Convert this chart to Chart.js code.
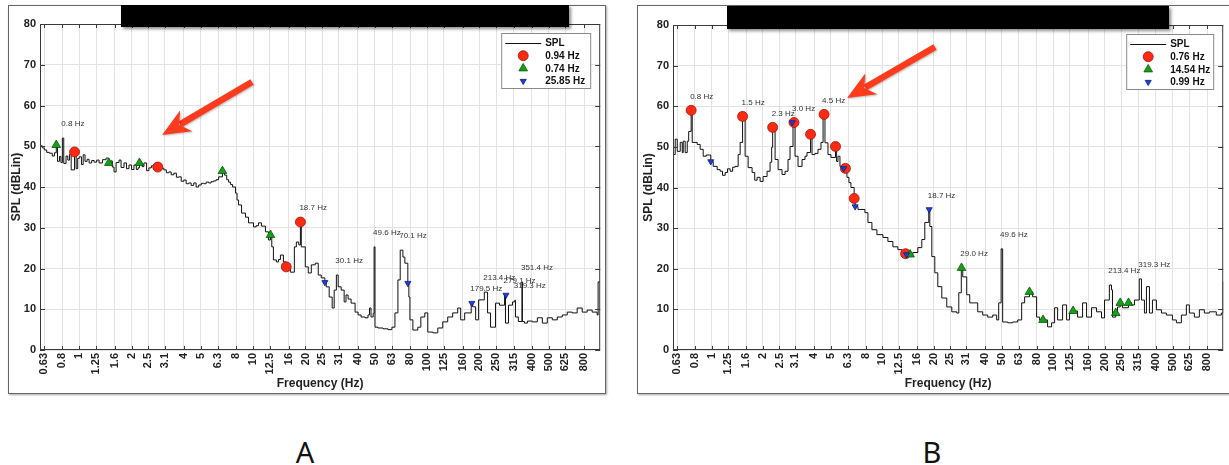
<!DOCTYPE html>
<html>
<head>
<meta charset="utf-8">
<title>SPL spectra A / B</title>
<script src="https://cdn.jsdelivr.net/npm/chart.js@4.4.1/dist/chart.umd.min.js"></script>
<style>
  html, body { margin: 0; padding: 0; background: #fff; }
  body { width: 1229px; height: 465px; position: relative; overflow: hidden; }
  .panel { position: absolute; top: 5px; height: 389px; }
  .frame { position: absolute; left: 0; top: 0; right: 0; bottom: 0; box-sizing: border-box;
           border: 1px solid #666; box-shadow: 1px 1px 2px rgba(0,0,0,.35); z-index: 0; }
  .panel canvas { position: absolute; left: 0; top: 0; z-index: 1; }
  .tag { position: absolute; top: 437px; font: 29px "Noto Sans", sans-serif; line-height: 1;
         color: #111; transform: translateX(-50%); }
</style>
</head>
<body>
<div class="panel" style="left:8px;width:598px"><div class="frame"></div><canvas id="chartA" width="598" height="389"></canvas></div>
<div class="panel" style="left:637px;width:600px"><div class="frame"></div><canvas id="chartB" width="592" height="389"></canvas></div>
<div class="tag" style="left:305px">A</div>
<div class="tag" style="left:932px">B</div>
<script>
const FONT = '"Liberation Sans", Arial, Helvetica, sans-serif';

// axes
const xMin = 0.595, xMax = 990;
const xTickValues = [0.63, 0.8, 1, 1.25, 1.6, 2, 2.5, 3.1, 4, 5, 6.3, 8, 10, 12.5, 16, 20, 25, 31, 40, 50,
  63, 80, 100, 125, 160, 200, 250, 315, 400, 500, 625, 800];
const yTickValues = [0, 10, 20, 30, 40, 50, 60, 70, 80];

// panel A: [Hz, dB]
const splA = [[0.595, 50.1], [0.614, 49.6], [0.63, 49.1], [0.65, 48.5], [0.673, 48.3], [0.70, 47.6], [0.72, 48.4],
  [0.738, 50.3], [0.75, 46.3], [0.77, 47.5], [0.785, 46.0], [0.80, 52.0], [0.815, 45.8], [0.84, 47.6], [0.86, 46.6],
  [0.88, 48.0], [0.899, 44.2], [0.94, 48.6], [0.96, 44.5], [0.98, 47.0], [1.0, 47.4], [1.03, 45.5], [1.054, 47.9],
  [1.08, 46.3], [1.11, 46.8], [1.14, 45.9], [1.18, 46.5], [1.218, 46.1], [1.26, 46.6], [1.301, 45.9], [1.36, 46.7],
  [1.427, 47.1], [1.48, 45.9], [1.52, 46.4], [1.55, 44.9], [1.586, 43.7], [1.63, 46.0], [1.694, 46.6], [1.74, 44.8],
  [1.809, 45.9], [1.87, 44.5], [1.932, 45.4], [2.0, 44.3], [2.064, 45.4], [2.13, 44.3], [2.18, 44.7], [2.22, 45.9],
  [2.3, 45.0], [2.355, 45.9], [2.44, 44.0], [2.516, 44.7], [2.6, 45.2], [2.687, 44.4], [2.83, 44.9], [2.95, 44.6],
  [3.066, 44.2], [3.17, 43.5], [3.275, 43.7], [3.38, 43.0], [3.499, 43.4], [3.62, 42.4], [3.737, 42.5], [3.86, 41.4],
  [3.992, 41.7], [4.12, 40.8], [4.264, 41.0], [4.4, 40.4], [4.555, 41.0], [4.7, 40.0], [4.864, 40.5], [5.03, 40.9],
  [5.196, 40.8], [5.37, 41.2], [5.551, 41.0], [5.73, 41.3], [5.93, 41.5], [6.13, 41.8], [6.334, 42.5], [6.66, 43.9],
  [6.855, 42.9], [7.05, 41.8], [7.226, 41.2], [7.42, 40.6], [7.617, 40.0], [7.925, 38.5], [8.08, 36.8], [8.245, 35.6],
  [8.578, 33.6], [9.042, 32.6], [9.406, 31.2], [10.05, 30.2], [10.4, 30.5], [10.73, 31.2], [11.16, 30.4],
  [11.77, 29.0], [12.25, 27.0], [12.58, 28.2], [12.8, 25.3], [13.08, 22.1], [13.61, 21.6], [14.0, 22.2],
  [14.35, 23.3], [14.93, 21.6], [15.5, 20.4], [16.37, 19.1], [17.26, 25.3], [17.72, 26.5], [18.3, 25.8],
  [18.7, 31.4], [18.92, 25.3], [19.95, 20.4], [20.75, 18.9], [21.6, 20.9], [22.76, 21.3], [23.68, 18.4],
  [24.64, 17.7], [25.85, 16.6], [26.31, 15.5], [27.37, 13.0], [28.48, 10.3], [29.24, 14.7], [30.1, 18.4],
  [30.83, 15.5], [32.07, 14.7], [33.37, 11.8], [34.2, 13.5], [35.17, 12.5], [36.59, 11.5], [38.57, 9.3],
  [40.12, 8.6], [41.74, 8.1], [44.0, 7.9], [45.78, 8.6], [46.7, 10.3], [47.63, 8.1], [49.0, 9.0], [49.6, 25.3],
  [50.21, 5.6], [52.24, 5.4], [55.8, 5.2], [59.6, 5.0], [62.8, 5.6], [65.36, 9.1], [68.0, 17.2], [70.1, 24.5],
  [72.64, 22.8], [74.57, 21.3], [77.55, 16.4], [78.6, 13.0], [79.7, 7.4], [82.9, 4.9], [88.5, 5.6], [92.1, 8.1],
  [97.1, 9.1], [101.0, 4.4], [107.9, 4.2], [115.3, 5.4], [123.1, 6.9], [131.5, 8.1], [140.4, 9.1], [150.1, 10.3],
  [156.1, 7.4], [164.6, 9.1], [179.5, 11.5], [182.9, 10.6], [190.3, 7.4], [197.9, 12.3], [213.4, 14.2],
  [222.8, 9.1], [231.8, 5.6], [241.2, 5.6], [247.6, 11.5], [261.0, 11.0], [279.1, 13.5], [282.5, 6.6],
  [294.0, 11.0], [309.9, 11.8], [319.3, 12.2], [322.4, 8.1], [335, 7.0], [351.4, 16.7], [353.5, 7.0],
  [363.0, 6.6], [377.6, 7.1], [403.4, 6.9], [430.9, 7.9], [460.3, 6.6], [491.5, 7.9], [525.3, 7.4], [561.0, 8.1],
  [599.1, 8.6], [640.1, 9.3], [683.6, 9.1], [730.1, 10.3], [780.2, 9.3], [833.3, 9.8], [890.1, 9.3],
  [950.6, 8.6], [963, 16.7], [990, 16.7]];
const redA = [[0.94, 48.6], [2.83, 44.9], [15.5, 20.4], [18.7, 31.4]];
const greenA = [[0.738, 50.3], [1.48, 45.9], [2.22, 45.9], [6.66, 43.9], [12.58, 28.2]];
const blueA = [[25.85, 16.6], [77.55, 16.4], [180.95, 11.5], [284.35, 13.5]];
const peaksA = [[0.8, 52.0], [18.7, 31.4], [30.1, 18.4], [49.6, 25.3], [70.1, 24.5], [179.5, 11.5],
  [213.4, 14.2], [279.1, 13.5], [319.3, 12.2], [351.4, 16.7]];
const namesA = ['SPL', '0.94 Hz', '0.74 Hz', '25.85 Hz'];

// panel B: [Hz, dB]
const splB = [[0.595, 48.1], [0.613, 51.9], [0.63, 48.9], [0.656, 51.1], [0.674, 48.6], [0.683, 51.4],
  [0.701, 48.6], [0.721, 51.4], [0.735, 53.8], [0.76, 59.0], [0.771, 51.1], [0.80, 51.1], [0.824, 50.6],
  [0.858, 49.4], [0.894, 47.7], [0.931, 48.0], [0.99, 46.4], [1.023, 45.2], [1.079, 44.4], [1.124, 44.0],
  [1.16, 43.0], [1.202, 43.7], [1.24, 44.6], [1.286, 44.0], [1.33, 45.0], [1.375, 45.2], [1.432, 48.1],
  [1.471, 51.1], [1.52, 57.5], [1.573, 47.7], [1.638, 44.9], [1.728, 43.7], [1.79, 41.8], [1.849, 42.5],
  [1.925, 41.5], [2.004, 42.7], [2.115, 44.0], [2.202, 46.2], [2.25, 49.9], [2.28, 54.8], [2.356, 46.9],
  [2.453, 44.4], [2.588, 43.2], [2.695, 44.0], [2.805, 46.9], [2.882, 50.1], [3.0, 56.0], [3.083, 47.7],
  [3.21, 45.2], [3.388, 46.9], [3.527, 47.7], [3.623, 48.6], [3.8, 53.1], [3.876, 48.1], [4.035, 48.4],
  [4.202, 49.4], [4.374, 51.1], [4.5, 58.0], [4.616, 51.0], [4.806, 48.1], [5.004, 47.4], [5.32, 50.1],
  [5.4, 46.4], [5.5, 47.7], [5.649, 45.2], [5.94, 44.7], [6.207, 42.5], [6.376, 41.2], [6.55, 40.0],
  [6.84, 37.3], [6.93, 35.3], [7.197, 34.6], [7.394, 34.6], [7.909, 33.8], [8.234, 31.4], [8.69, 29.6],
  [9.294, 28.4], [10.08, 27.7], [10.78, 26.7], [11.53, 25.4], [12.33, 24.7], [13.01, 24.0], [13.68, 23.7],
  [14.54, 23.5], [15.09, 24.0], [16.14, 25.2], [17.03, 27.2], [17.73, 31.4], [18.7, 34.6], [18.97, 30.4],
  [19.49, 23.0], [20.29, 19.0], [21.12, 15.6], [22.29, 12.8], [23.84, 10.6], [25.5, 9.4], [27.28, 9.1],
  [28.03, 14.1], [29.0, 20.2], [29.57, 18.0], [31.2, 13.6], [32.49, 11.6], [34.75, 11.6], [36.18, 9.4],
  [38.7, 8.6], [41.4, 8.1], [44.29, 8.6], [46.73, 7.4], [48.0, 11.6], [49.6, 24.9], [50.64, 6.9], [54.18, 6.7],
  [57.96, 6.9], [61.99, 7.4], [65.42, 11.6], [68.11, 13.1], [72.7, 14.3], [75.86, 13.1], [80.06, 8.1],
  [83.36, 7.4], [87.24, 7.4], [92.82, 5.7], [97.95, 6.7], [101.98, 10.4], [106.2, 7.4], [113.6, 11.1],
  [119.9, 7.4], [124.8, 9.1], [130.9, 9.6], [139.0, 8.1], [148.7, 11.6], [156.9, 8.1], [167.8, 10.4],
  [179.5, 9.4], [192.0, 7.9], [199.9, 12.3], [213.4, 16.0], [219.6, 14.8], [222.6, 8.1], [232.6, 9.1],
  [238.1, 10.6], [247.2, 11.6], [254.7, 10.4], [276.3, 11.6], [287.4, 11.1], [299.3, 12.3], [319.3, 17.5],
  [328.9, 12.3], [342.4, 9.1], [351.8, 15.6], [366.3, 9.1], [381.4, 12.3], [402.5, 9.9], [430.5, 9.1],
  [460.4, 8.6], [499.2, 7.4], [526.8, 6.7], [563.4, 8.6], [602.6, 11.1], [627.4, 9.1], [671.1, 8.1],
  [717.8, 9.9], [767.8, 9.1], [821.2, 9.4], [902.1, 8.6], [965.2, 9.1], [990, 16.8]];
const redB = [[0.76, 59.0], [1.52, 57.5], [2.28, 54.8], [3.04, 56.0], [3.8, 53.1], [4.56, 58.0], [5.32, 50.1],
  [6.08, 44.7], [6.84, 37.3], [13.68, 23.7]];
const greenB = [[14.54, 23.5], [29.08, 20.2], [72.7, 14.3], [87.24, 7.4], [130.9, 9.6], [232.6, 9.1],
  [247.2, 11.6], [276.3, 11.6]];
const blueB = [[0.99, 46.4], [2.97, 56.0], [5.94, 44.7], [6.93, 35.3], [13.86, 23.5], [18.81, 34.6]];
const peaksB = [[0.76, 59.0], [1.52, 57.5], [2.28, 54.8], [3.0, 56.0], [4.5, 58.0], [18.7, 34.6], [29.0, 20.2],
  [49.6, 24.9], [213.4, 16.0], [319.3, 17.5]];
const namesB = ['SPL', '0.76 Hz', '14.54 Hz', '0.99 Hz'];

const toXY = arr => arr.map(([x, y]) => ({ x, y }));

function drawArrow(ctx, tail, tip) {
    const [x1, y1] = tail, [x2, y2] = tip;
    const ang = Math.atan2(y2 - y1, x2 - x1);
    const c = Math.cos(ang), s = Math.sin(ang);
    const bx = x2 - 25 * c, by = y2 - 25 * s;
    ctx.strokeStyle = ctx.fillStyle = '#ff3b1e';
    ctx.shadowColor = 'rgba(0,0,0,0.25)';
    ctx.shadowBlur = 2; ctx.shadowOffsetX = 1; ctx.shadowOffsetY = 1;
    ctx.lineWidth = 6.5;
    ctx.beginPath(); ctx.moveTo(x1, y1); ctx.lineTo(bx + 4 * c, by + 4 * s); ctx.stroke();
    ctx.beginPath();
    ctx.moveTo(x2, y2);
    ctx.lineTo(bx + 12 * s - 3 * c, by - 12 * c - 3 * s);
    ctx.lineTo(bx + 5 * c, by + 5 * s);
    ctx.lineTo(bx - 12 * s - 3 * c, by + 12 * c - 3 * s);
    ctx.closePath(); ctx.fill();
}

// frame, inward ticks, peak labels, legend, redaction bar, arrow
const panelDecor = {
    id: 'panelDecor',
    afterDraw(chart, args, o) {
        const { ctx, chartArea: a, scales: { x, y } } = chart;
        ctx.save();
        ctx.strokeStyle = '#3a3a3a';
        ctx.lineWidth = 1;
        ctx.strokeRect(a.left + 0.5, a.top + 0.5, a.right - a.left - 1, a.bottom - a.top - 1);
        ctx.beginPath();
        xTickValues.forEach(v => {
            const px = Math.round(x.getPixelForValue(v)) + 0.5;
            ctx.moveTo(px, a.bottom); ctx.lineTo(px, a.bottom - 4);
            ctx.moveTo(px, a.top); ctx.lineTo(px, a.top + 4);
        });
        yTickValues.forEach(v => {
            const py = Math.round(y.getPixelForValue(v)) + 0.5;
            ctx.moveTo(a.left, py); ctx.lineTo(a.left + 5, py);
            ctx.moveTo(a.right, py); ctx.lineTo(a.right - 5, py);
        });
        ctx.stroke();

        ctx.font = '8px ' + FONT;
        ctx.fillStyle = '#333';
        ctx.textAlign = 'left';
        ctx.textBaseline = 'middle';
        o.peaks.forEach(([f, db]) => {
            ctx.fillText(f.toFixed(1) + ' Hz', x.getPixelForValue(f) - 1, y.getPixelForValue(db) - 14);
        });

        // legend
        const w = o.legendWidth, h = 56;
        const lx = a.right - 9 - w, ly = a.top + 9;
        ctx.fillStyle = '#fff';
        ctx.fillRect(lx, ly, w, h);
        ctx.strokeStyle = '#8a8a8a';
        ctx.strokeRect(lx + 0.5, ly + 0.5, w - 1, h - 1);
        ctx.font = 'bold 10px ' + FONT;
        chart.data.datasets.forEach((ds, i) => {
            const ry = ly + 10 + i * 12.7;
            if (ds.showLine) {
                ctx.strokeStyle = ds.borderColor; ctx.lineWidth = 1;
                ctx.beginPath(); ctx.moveTo(lx + 4, ry + 0.5); ctx.lineTo(lx + 40, ry + 0.5); ctx.stroke();
            } else {
                ctx.fillStyle = ds.backgroundColor; ctx.strokeStyle = ds.borderColor;
                ctx.lineWidth = ds.borderWidth;
                Chart.helpers.drawPoint(ctx, { pointStyle: ds.pointStyle, radius: ds.pointRadius,
                    rotation: ds.pointRotation || 0, borderWidth: ds.borderWidth }, lx + 22, ry);
            }
            ctx.fillStyle = '#111';
            ctx.fillText(ds.label, lx + 44, ry + 0.5);
        });

        // redaction bar
        ctx.shadowColor = 'rgba(0,0,0,0.45)';
        ctx.shadowBlur = 3; ctx.shadowOffsetX = 2; ctx.shadowOffsetY = 2;
        ctx.fillStyle = '#000';
        ctx.fillRect(...o.bar);

        drawArrow(ctx, o.arrow[0], o.arrow[1]);
        ctx.restore();
    }
};

function makeChart(id, spl, red, green, blue, names, peaks, lay) {
    const tickFont = { family: FONT, size: 11, weight: 'bold' };
    const titleFont = { family: FONT, size: 12, weight: 'bold' };
    return new Chart(document.getElementById(id), {
        type: 'scatter',
        data: {
            datasets: [
                { label: names[0], data: toXY(spl), showLine: true, stepped: true, borderColor: '#111',
                  borderWidth: 1, pointRadius: 0, order: 4 },
                { label: names[1], data: toXY(red), pointStyle: 'circle', pointRadius: 5,
                  backgroundColor: '#ff2a12', borderColor: '#9c1608', borderWidth: 0.8, order: 3 },
                { label: names[2], data: toXY(green), pointStyle: 'triangle', pointRadius: 5,
                  backgroundColor: '#12a312', borderColor: '#0b560b', borderWidth: 0.8, order: 2 },
                { label: names[3], data: toXY(blue), pointStyle: 'triangle', pointRotation: 180, pointRadius: 3.5,
                  backgroundColor: '#1f3fd8', borderColor: '#0c1c80', borderWidth: 0.8, order: 1 }
            ]
        },
        options: {
            responsive: false,
            animation: false,
            events: [],
            layout: { padding: { left: 0, top: lay.top, right: lay.right, bottom: 0 } },
            plugins: {
                legend: { display: false },
                tooltip: { enabled: false },
                panelDecor: { peaks, legendWidth: lay.legendWidth, bar: lay.bar, arrow: lay.arrow }
            },
            scales: {
                x: {
                    type: 'logarithmic', min: xMin, max: xMax,
                    afterBuildTicks: s => { s.ticks = xTickValues.map(v => ({ value: v })); },
                    afterFit: s => { s.height = 44; },
                    ticks: { autoSkip: false, minRotation: 90, maxRotation: 90, padding: 3, color: '#222',
                             font: tickFont, callback: v => String(v) },
                    grid: { color: '#e3e3e3', drawTicks: false },
                    border: { display: false },
                    title: { display: true, text: 'Frequency (Hz)', color: '#222', font: titleFont,
                             padding: { top: 0, bottom: 3 } }
                },
                y: {
                    min: 0, max: 80,
                    afterBuildTicks: s => { s.ticks = yTickValues.map(v => ({ value: v })); },
                    afterFit: s => { s.width = lay.yWidth; },
                    ticks: { padding: 4, color: '#222', font: tickFont },
                    grid: { color: '#e3e3e3', drawTicks: false },
                    border: { display: false },
                    title: { display: true, text: 'SPL (dBLin)', color: '#222', font: titleFont,
                             padding: { top: lay.titlePad, bottom: 0 } }
                }
            }
        },
        plugins: [panelDecor]
    });
}

makeChart('chartA', splA, redA, greenA, blueA, namesA, peaksA,
    { top: 19, right: 4, yWidth: 32, titlePad: 1, legendWidth: 90,
      bar: [113, 0, 448, 22], arrow: [[244, 77], [154, 130]] });
makeChart('chartB', splB, redB, greenB, blueB, namesB, peaksB,
    { top: 20, right: 5, yWidth: 36, titlePad: 4, legendWidth: 88,
      bar: [90, 1, 442, 23], arrow: [[298, 42], [210, 93]] });
</script>
</body>
</html>
